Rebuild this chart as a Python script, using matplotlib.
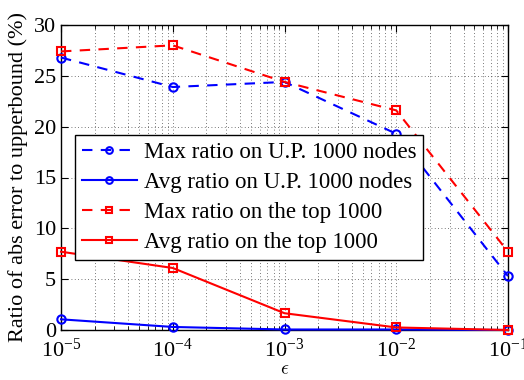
import matplotlib
matplotlib.use("Agg")
import matplotlib.pyplot as plt
from matplotlib.ticker import LogLocator, NullFormatter

plt.rcParams['font.family'] = ['Liberation Serif', 'DejaVu Serif']
plt.rcParams['mathtext.fontset'] = 'cm'

eps = [1e-5, 1e-4, 1e-3, 1e-2, 1e-1]
max_up = [26.8, 23.9, 24.4, 19.3, 5.3]
avg_up = [1.05, 0.3, 0.05, 0.05, 0.0]
max_top = [27.4, 28.0, 24.4, 21.6, 7.7]
avg_top = [7.7, 6.1, 1.65, 0.25, 0.0]
labels = ['Max ratio on U.P. 1000 nodes', 'Avg ratio on U.P. 1000 nodes',
          'Max ratio on the top 1000', 'Avg ratio on the top 1000']
xlabel = r'$\epsilon$'
ylabel = 'Ratio of abs error to upperbound (%)'

fig = plt.figure(figsize=(5.24, 3.8), dpi=100)
ax = fig.add_axes([61/524, 1-330/380, 447/524, 305/380])

ms = 6
ax.plot(eps, max_up, color='blue', ls=(0, (5, 4)), lw=1.5, marker='o', ms=ms, mfc='none', mew=1.5, label=labels[0], zorder=3, clip_on=False)
ax.plot(eps, avg_up, color='blue', ls='-', lw=1.5, marker='o', ms=ms, mfc='none', mew=1.5, label=labels[1], zorder=3, clip_on=False)
ax.plot(eps, max_top, color='red', ls=(0, (5, 4)), lw=1.5, marker='s', ms=ms, mfc='none', mew=1.5, label=labels[2], zorder=3, clip_on=False)
ax.plot(eps, avg_top, color='red', ls='-', lw=1.5, marker='s', ms=ms, mfc='none', mew=1.5, label=labels[3], zorder=3, clip_on=False)

ax.set_xscale('log')
ax.set_xlim(1e-5, 1e-1)
ax.set_ylim(0, 30)
ax.set_yticks([0, 5, 10, 15, 20, 25, 30])
ax.xaxis.set_major_locator(LogLocator(base=10, numticks=10))
ax.xaxis.set_minor_locator(LogLocator(base=10, subs=range(2, 10), numticks=20))
ax.xaxis.set_minor_formatter(NullFormatter())
ax.grid(True, which='major', ls=(0, (1, 3)), color='black', lw=0.6, alpha=0.7)
ax.grid(True, which='minor', axis='x', ls=(0, (1, 3)), color='black', lw=0.6, alpha=0.7)
ax.tick_params(direction='in', which='both', top=True, right=True, labelsize=16)
ax.tick_params(which='major', length=5)
ax.tick_params(which='minor', length=3)
ax.tick_params(axis='x', which='major', pad=6)
for s in ax.spines.values():
    s.set_linewidth(1.0)

ax.set_xlabel(xlabel, fontsize=14, labelpad=0)
ax.set_ylabel(ylabel, fontsize=16, labelpad=4)

leg = ax.legend(loc='upper left', bbox_to_anchor=(0.031, 0.64), fontsize=16.5,
                frameon=True, fancybox=False, edgecolor='black', framealpha=1,
                handlelength=2.4, handletextpad=0.3, labelspacing=0.4, borderpad=0.3,
                borderaxespad=0, markerscale=0.8)
leg.get_frame().set_linewidth(1.0)
leg.set_zorder(5)

fig.savefig('out.png', dpi=100)
